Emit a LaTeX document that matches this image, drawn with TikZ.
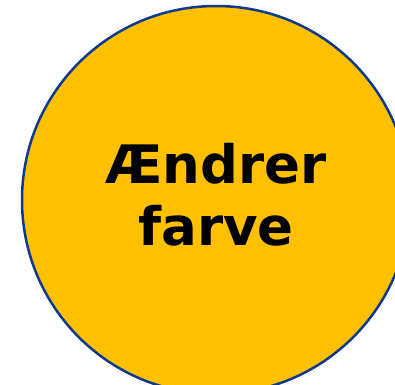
\documentclass[tikz,border=0pt]{standalone}
\usepackage{fontspec}
\setmainfont{DejaVu Sans}
\usepackage{xcolor}
\definecolor{circlefill}{HTML}{FFC000}
\definecolor{circleline}{HTML}{10398C}

\begin{document}
\begin{tikzpicture}[x=1pt,y=1pt]
    % Fix the page to the size of the picture
    \useasboundingbox (0,0) rectangle (395,384);
    \clip (0,0) rectangle (395,384);

    % Draw the coloured disc
    \node[circle, draw=circleline, line width=2.5pt, fill=circlefill,
          minimum size=388pt, inner sep=0pt] (disc) at (216,184) {};

    % Its label, set a little above the centre
    \node[align=center, font=\fontsize{53}{62}\selectfont\bfseries]
          (label) at ([yshift=5pt]disc.center) {Ændrer\\farve};

\end{tikzpicture}
\end{document}
